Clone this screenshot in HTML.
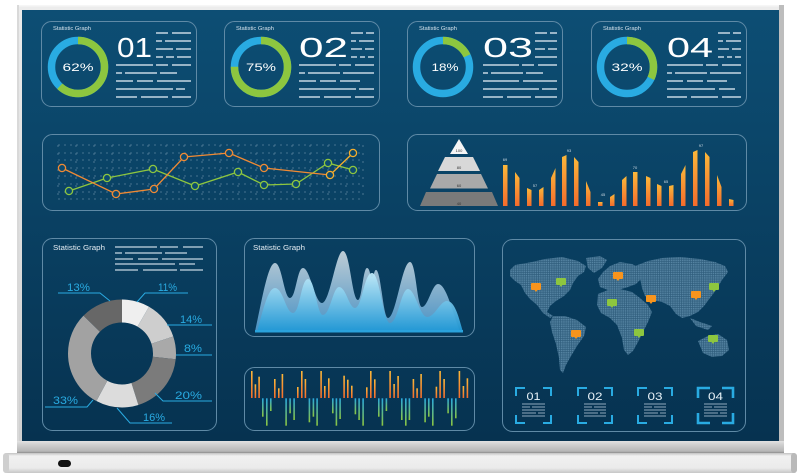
<!DOCTYPE html>
<html><head><meta charset="utf-8"><style>
html,body{margin:0;padding:0;background:#fff;width:800px;height:476px;overflow:hidden}
svg{display:block;font-family:"Liberation Sans",sans-serif}
</style></head><body>
<svg width="800" height="476" viewBox="0 0 800 476" xmlns="http://www.w3.org/2000/svg">
<defs>
<linearGradient id="scr" x1="0" y1="0" x2="0" y2="1"><stop offset="0" stop-color="#0d4e74"/><stop offset="1" stop-color="#063250"/></linearGradient>
<linearGradient id="frm" x1="0" y1="0" x2="0" y2="1"><stop offset="0" stop-color="#ececec"/><stop offset="1" stop-color="#cfcfcf"/></linearGradient>
<linearGradient id="band" x1="0" y1="0" x2="0" y2="1"><stop offset="0" stop-color="#e2e2e2"/><stop offset="0.35" stop-color="#cdcdcd"/><stop offset="0.85" stop-color="#b6b6b6"/><stop offset="1" stop-color="#8c8c8c"/></linearGradient>
<linearGradient id="base" x1="0" y1="0" x2="0" y2="1"><stop offset="0" stop-color="#c2c2c2"/><stop offset="0.15" stop-color="#f1f1f1"/><stop offset="0.75" stop-color="#ebebeb"/><stop offset="1" stop-color="#c6c6c6"/></linearGradient>
<linearGradient id="og" x1="0" y1="0" x2="0" y2="1"><stop offset="0" stop-color="#fbb83a"/><stop offset="1" stop-color="#f36b2c"/></linearGradient>
<linearGradient id="bg2" x1="0" y1="0" x2="0" y2="1"><stop offset="0" stop-color="#2aa9e0"/><stop offset="1" stop-color="#8bc53f"/></linearGradient>
<linearGradient id="wb" gradientUnits="userSpaceOnUse" x1="0" y1="250" x2="0" y2="332"><stop offset="0" stop-color="#d3dde3"/><stop offset="1" stop-color="#4d9acf"/></linearGradient>
<linearGradient id="wf" gradientUnits="userSpaceOnUse" x1="0" y1="272" x2="0" y2="332"><stop offset="0" stop-color="#c2ebf9"/><stop offset="1" stop-color="#1e97d5"/></linearGradient>
<pattern id="dots" width="2.2" height="2.2" patternUnits="userSpaceOnUse"><rect width="2.2" height="2.2" fill="#2f5d7c"/><rect width="1.5" height="1.5" fill="#5584a2"/></pattern>
</defs>

<!-- monitor frame -->
<rect x="17" y="5" width="767" height="448" fill="url(#frm)"/>
<rect x="17" y="5" width="767" height="1.5" fill="#f6f6f6"/>
<rect x="779" y="5" width="5" height="448" fill="#bdbdbd"/>
<rect x="17" y="5" width="2" height="448" fill="#d9d9d9"/>
<rect x="22" y="10" width="757" height="431" fill="url(#scr)"/>
<rect x="17" y="441" width="767" height="12" fill="url(#band)"/>
<rect x="3" y="453" width="794" height="20" rx="4" fill="url(#base)"/>
<rect x="3" y="453" width="6" height="20" rx="3" fill="#cfcfcf"/>
<rect x="791" y="453" width="6" height="20" rx="3" fill="#b9b9b9"/>
<rect x="58" y="460" width="13" height="7" rx="3.5" fill="#111"/>

<!-- top cards -->
<g fill="none" stroke="#5f8aa6" stroke-width="1">
<rect x="41.5" y="21.5" width="155" height="85" rx="10"/>
<rect x="224.5" y="21.5" width="155" height="85" rx="10"/>
<rect x="407.5" y="21.5" width="155" height="85" rx="10"/>
<rect x="591.5" y="21.5" width="155" height="85" rx="10"/>
<rect x="42.5" y="134.5" width="337" height="76" rx="10"/>
<rect x="407.5" y="134.5" width="339" height="76" rx="10"/>
<rect x="42.5" y="238.5" width="174" height="192" rx="10"/>
<rect x="244.5" y="238.5" width="230" height="98" rx="10"/>
<rect x="244.5" y="367.5" width="230" height="63" rx="10"/>
<rect x="502.5" y="239.5" width="243" height="192" rx="10"/>
</g>

<g id="c1" transform="translate(41,21)">
<text x="12" y="9" font-size="5" fill="#d6e3ec" textLength="38" lengthAdjust="spacingAndGlyphs">Statistic Graph</text>
<circle cx="37" cy="46" r="26.5" fill="none" stroke="#29abe2" stroke-width="7.5"/>
<circle cx="37" cy="46" r="26.5" fill="none" stroke="#8dc63f" stroke-width="7.5" stroke-dasharray="103.2 200" transform="rotate(-90 37 46)"/>
<text x="37" y="50" font-size="11" fill="#fff" text-anchor="middle" textLength="31" lengthAdjust="spacingAndGlyphs">62%</text>
<text x="76" y="36" font-size="28" fill="#fff" textLength="35" lengthAdjust="spacingAndGlyphs">01</text>
<g stroke="#c6d7e3" stroke-width="1.4">
<path d="M115 12H127M131 12H150M115 20H121M124 20H150M115 28H132M135 28H150M115 36H122M125 36H133M136 36H150"/>
<path d="M75 44H112M115 44H127M131 44H150M75 52H81M84 52H116M119 52H136M75 60H92M96 60H112M116 60H150M75 68H132M135 68H144M75 76H96M100 76H127M131 76H150"/>
</g>
</g>
<g transform="translate(224,21)">
<text x="12" y="9" font-size="5" fill="#d6e3ec" textLength="38" lengthAdjust="spacingAndGlyphs">Statistic Graph</text>
<circle cx="37" cy="46" r="26.5" fill="none" stroke="#29abe2" stroke-width="7.5"/>
<circle cx="37" cy="46" r="26.5" fill="none" stroke="#8dc63f" stroke-width="7.5" stroke-dasharray="124.9 200" transform="rotate(-90 37 46)"/>
<text x="37" y="50" font-size="11" fill="#fff" text-anchor="middle" textLength="30" lengthAdjust="spacingAndGlyphs">75%</text>
<text x="75" y="36" font-size="28" fill="#fff" textLength="49" lengthAdjust="spacingAndGlyphs">02</text>
<g stroke="#c6d7e3" stroke-width="1.4">
<path d="M127 12H139M142 12H150M127 20H132M135 20H150M127 28H138M141 28H150M127 36H133M136 36H141M144 36H150"/>
<path d="M75 44H112M115 44H127M131 44H150M75 52H81M84 52H116M119 52H150M75 60H92M96 60H112M116 60H136M75 68H132M135 68H150M75 76H96M100 76H127M131 76H150"/>
</g>
</g>
<g transform="translate(407,21)">
<text x="12" y="9" font-size="5" fill="#d6e3ec" textLength="38" lengthAdjust="spacingAndGlyphs">Statistic Graph</text>
<circle cx="36" cy="46" r="26.5" fill="none" stroke="#29abe2" stroke-width="7.5"/>
<circle cx="36" cy="46" r="26.5" fill="none" stroke="#8dc63f" stroke-width="7.5" stroke-dasharray="30 200" transform="rotate(-90 36 46)"/>
<text x="38" y="50" font-size="11" fill="#fff" text-anchor="middle" textLength="27" lengthAdjust="spacingAndGlyphs">18%</text>
<text x="76" y="36" font-size="28" fill="#fff" textLength="50" lengthAdjust="spacingAndGlyphs">03</text>
<g stroke="#c6d7e3" stroke-width="1.4">
<path d="M128 12H140M143 12H150M128 20H150M128 28H138M141 28H150M128 36H150"/>
<path d="M76 44H112M115 44H127M131 44H150M76 52H81M84 52H116M119 52H136M76 60H112M116 60H150M76 68H132M135 68H150M76 76H96M100 76H124M128 76H150"/>
</g>
</g>
<g transform="translate(591,21)">
<text x="12" y="9" font-size="5" fill="#d6e3ec" textLength="38" lengthAdjust="spacingAndGlyphs">Statistic Graph</text>
<circle cx="36" cy="46" r="26.5" fill="none" stroke="#29abe2" stroke-width="7.5"/>
<circle cx="36" cy="46" r="26.5" fill="none" stroke="#8dc63f" stroke-width="7.5" stroke-dasharray="53.3 200" transform="rotate(-90 36 46)"/>
<text x="36" y="50" font-size="11" fill="#fff" text-anchor="middle" textLength="31" lengthAdjust="spacingAndGlyphs">32%</text>
<text x="76" y="36" font-size="28" fill="#fff" textLength="46" lengthAdjust="spacingAndGlyphs">04</text>
<g stroke="#c6d7e3" stroke-width="1.4">
<path d="M127 12H139M142 12H150M127 20H132M135 20H150M127 28H138M141 28H150M127 36H133M136 36H141M144 36H150"/>
<path d="M76 44H112M115 44H127M131 44H150M76 52H81M84 52H116M119 52H150M76 60H92M96 60H112M116 60H136M76 68H124M128 68H144M76 76H96M100 76H127M131 76H150"/>
</g>
</g>

<!-- line chart -->
<g stroke="#6f93ab" stroke-width="0.8" stroke-dasharray="2 4" opacity="0.8">
<path d="M58 145H364M58 153H364M58 160H364M58 168H364M58 176H364M58 184H364M58 192H364M58 199H364"/>
<path d="M58 145V200M76 145V200M94 145V200M112 145V200M130 145V200M148 145V200M166 145V200M184 145V200M202 145V200M220 145V200M238 145V200M256 145V200M274 145V200M292 145V200M310 145V200M328 145V200M346 145V200M363 145V200" stroke-dasharray="2 6"/>
</g>
<polyline points="69,191 107,178 153,169 195,186 238,172 264,185 296,184 328,163 353,170" fill="none" stroke="#8dc63f" stroke-width="1.3"/>
<polyline points="62,168 116,194 154,189 184,157 229,153 264,168 330,175" fill="none" stroke="#f08a34" stroke-width="1.3"/>
<line x1="330" y1="175" x2="353" y2="153" stroke="#f6ae2d" stroke-width="1.3"/>
<g fill="#0c4a6f" stroke="#8dc63f" stroke-width="1.3">
<circle cx="69" cy="191" r="3.6"/><circle cx="107" cy="178" r="3.6"/><circle cx="153" cy="169" r="3.6"/><circle cx="195" cy="186" r="3.6"/><circle cx="238" cy="172" r="3.6"/><circle cx="264" cy="185" r="3.6"/><circle cx="296" cy="184" r="3.6"/><circle cx="328" cy="163" r="3.6"/><circle cx="353" cy="170" r="3.6"/>
</g>
<g fill="#0c4a6f" stroke="#f08a34" stroke-width="1.3">
<circle cx="62" cy="168" r="3.6"/><circle cx="116" cy="194" r="3.6"/><circle cx="154" cy="189" r="3.6"/><circle cx="184" cy="157" r="3.6"/><circle cx="229" cy="153" r="3.6"/><circle cx="264" cy="168" r="3.6"/><circle cx="330" cy="175" r="3.6" stroke="#f6ae2d"/><circle cx="353" cy="153" r="3.6" stroke="#f6ae2d"/>
</g>

<!-- pyramid -->
<polygon points="459,139 468,154 450,154" fill="#f5f5f5"/>
<polygon points="445,157 473,157 480,171 438,171" fill="#d8d8d8"/>
<polygon points="437,174 481,174 488,188.5 430,188.5" fill="#a9a9a9"/>
<polygon points="426,192 492,192 498,206 420,206" fill="#7a7a7a"/>
<g font-size="4" fill="#333" text-anchor="middle">
<text x="459" y="152">100</text><text x="459" y="169">80</text><text x="459" y="187">60</text><text x="459" y="205">40</text>
</g>
<!-- orange bars -->
<g fill="url(#og)">
<polygon points="503,206 503,165 507.5,165 507.5,206"/>
<polygon points="515,206 515,172 519.5,178 519.5,206"/>
<polygon points="527,206 527,188 531.5,190 531.5,206"/>
<polygon points="539,206 539,190 543.5,187 543.5,206"/>
<polygon points="551,206 551,178 555.5,168 555.5,206"/>
<polygon points="562,206 562,157 566.5,155 566.5,206"/>
<polygon points="574,206 574,157 578.5,162 578.5,206"/>
<polygon points="586,206 586,181 590.5,192 590.5,206"/>
<polygon points="598,206 598,202 602.5,202 602.5,206"/>
<polygon points="610,206 610,197 614.5,194 614.5,206"/>
<polygon points="622,206 622,180 626.5,176 626.5,206"/>
<polygon points="633,206 633,172 637.5,172 637.5,206"/>
<polygon points="646,206 646,176 650.5,178 650.5,206"/>
<polygon points="657,206 657,184 661.5,186 661.5,206"/>
<polygon points="669,206 669,186 673.5,185 673.5,206"/>
<polygon points="681,206 681,174 685.5,165 685.5,206"/>
<polygon points="693,206 693,152 697.5,150 697.5,206"/>
<polygon points="705,206 705,152 709.5,157 709.5,206"/>
<polygon points="717,206 717,175 721.5,187 721.5,206"/>
<polygon points="729,206 729,199 733.5,200 733.5,206"/>
</g>
<g font-size="4" fill="#cfdbe4" text-anchor="middle">
<text x="505" y="161">69</text><text x="535" y="187">57</text><text x="569" y="152">93</text><text x="603" y="196">45</text><text x="635" y="169">70</text><text x="666" y="183">65</text><text x="701" y="147">97</text>
</g>

<!-- bottom-left donut card -->
<text x="53" y="250" font-size="7" fill="#e6eef4" textLength="52" lengthAdjust="spacingAndGlyphs">Statistic Graph</text>
<g stroke="#c6d7e3" stroke-width="1.3">
<path d="M115 247H157M160 247H178M183 247H203M115 253H122M125 253H162M165 253H187M115 259H133M138 259H158M162 259H203M115 264H175M179 264H195M115 270H138M143 270H177M180 270H203"/>
</g>
<g fill="none" stroke-width="23" transform="rotate(-90 122 353.5)">
<circle cx="122" cy="353.5" r="42.5" stroke="#efefef" stroke-dasharray="22.25 300"/>
<circle cx="122" cy="353.5" r="42.5" stroke="#cecece" stroke-dasharray="30.79 300" stroke-dashoffset="-22.25"/>
<circle cx="122" cy="353.5" r="42.5" stroke="#a9a9a9" stroke-dasharray="18.17 300" stroke-dashoffset="-53.04"/>
<circle cx="122" cy="353.5" r="42.5" stroke="#7b7b7b" stroke-dasharray="48.96 300" stroke-dashoffset="-71.21"/>
<circle cx="122" cy="353.5" r="42.5" stroke="#dcdcdc" stroke-dasharray="34.12 300" stroke-dashoffset="-120.17"/>
<circle cx="122" cy="353.5" r="42.5" stroke="#a2a2a2" stroke-dasharray="78.63 300" stroke-dashoffset="-154.29"/>
<circle cx="122" cy="353.5" r="42.5" stroke="#676767" stroke-dasharray="34.12 300" stroke-dashoffset="-232.92"/>
</g>
<g fill="none" stroke="#29abe2" stroke-width="1">
<polyline points="58,293 100,293 110,301"/>
<polyline points="188,293 145,293 137,302"/>
<polyline points="212,325 167,325"/>
<polyline points="212,355 176,355"/>
<polyline points="155,393 163,401 212,401"/>
<polyline points="117,408 130,423 172,423"/>
<polyline points="45,407 87,407 93,400"/>
</g>
<g font-size="11" fill="#29abe2">
<text x="67" y="291" textLength="23" lengthAdjust="spacingAndGlyphs">13%</text>
<text x="158" y="291" textLength="19" lengthAdjust="spacingAndGlyphs">11%</text>
<text x="180" y="323" textLength="22" lengthAdjust="spacingAndGlyphs">14%</text>
<text x="184" y="352" textLength="18" lengthAdjust="spacingAndGlyphs">8%</text>
<text x="175" y="399" textLength="27" lengthAdjust="spacingAndGlyphs">20%</text>
<text x="143" y="421" textLength="22" lengthAdjust="spacingAndGlyphs">16%</text>
<text x="53" y="404" textLength="25" lengthAdjust="spacingAndGlyphs">33%</text>
</g>

<!-- waves -->
<text x="253" y="250" font-size="7" fill="#e6eef4" textLength="52" lengthAdjust="spacingAndGlyphs">Statistic Graph</text>
<path d="M255,332 C262,300 268,263 275,263 C282,263 284,298 290,298 C296,298 297,268 303,268 C310,268 315,303 322,303 C330,303 336,251 343,251 C350,251 352,300 358,300 C362,300 363,268 367,268 C370,268 370,277 372,277 C374,277 374,270 376,270 C381,270 383,318 388,318 C396,318 402,262 410,262 C416,262 417,307 422,307 C428,307 432,284 438,284 C446,284 452,310 460,332 Z" fill="url(#wb)" opacity="0.9"/>
<path d="M257,332 C263,310 268,288 275,288 C283,288 286,313 293,313 C300,313 301,279 308,279 C315,279 317,315 323,315 C330,315 333,287 339,287 C346,287 349,308 355,308 C362,308 364,273 372,273 C380,273 383,323 390,323 C398,323 401,289 408,289 C415,289 420,317 427,317 C435,317 440,301 447,301 C455,301 459,318 463,332 Z" fill="url(#wf)" opacity="0.95"/>
<rect x="255" y="330" width="208" height="2.5" fill="#2aa3dc"/>

<!-- bars bottom -->
<g fill="url(#og)">
<rect x="251" y="371" width="1.6" height="27"/><rect x="254.6" y="384.3" width="1.6" height="13.7"/><rect x="258.3" y="376.7" width="1.6" height="21.3"/>
<rect x="274" y="379" width="1.6" height="19"/><rect x="278" y="388.3" width="1.6" height="9.7"/><rect x="281.6" y="374" width="1.6" height="24"/>
<rect x="297" y="387" width="1.6" height="11"/><rect x="301" y="371" width="1.6" height="27"/><rect x="304.6" y="379" width="1.6" height="19"/>
<rect x="320.3" y="371" width="1.6" height="27"/><rect x="324" y="386" width="1.6" height="12"/><rect x="328" y="378.3" width="1.6" height="19.7"/>
<rect x="343.3" y="375.7" width="1.6" height="22.3"/><rect x="347" y="379.7" width="1.6" height="18.3"/><rect x="351" y="385.7" width="1.6" height="12.3"/>
<rect x="366" y="387.3" width="1.6" height="10.7"/><rect x="370" y="371" width="1.6" height="27"/><rect x="374" y="379.3" width="1.6" height="18.7"/>
<rect x="389.3" y="371" width="1.6" height="27"/><rect x="393.3" y="384" width="1.6" height="14"/><rect x="397.3" y="376" width="1.6" height="22"/>
<rect x="412.6" y="379" width="1.6" height="19"/><rect x="416.3" y="388.3" width="1.6" height="9.7"/><rect x="420.3" y="374" width="1.6" height="24"/>
<rect x="435.6" y="386.7" width="1.6" height="11.3"/><rect x="439.3" y="371" width="1.6" height="27"/><rect x="443.3" y="379" width="1.6" height="19"/>
<rect x="458.6" y="371" width="1.6" height="27"/><rect x="462.6" y="386" width="1.6" height="12"/><rect x="466.6" y="378.3" width="1.6" height="19.7"/>
</g>
<g fill="url(#bg2)">
<rect x="262" y="398.3" width="1.6" height="18.4"/><rect x="266" y="398.3" width="1.6" height="27.4"/><rect x="270" y="398.3" width="1.6" height="12.7"/>
<rect x="285.3" y="398.3" width="1.6" height="27.4"/><rect x="289.3" y="398.3" width="1.6" height="15"/><rect x="293.3" y="398.3" width="1.6" height="21.7"/>
<rect x="308.6" y="398.3" width="1.6" height="24"/><rect x="312.6" y="398.3" width="1.6" height="18.4"/><rect x="316.3" y="398.3" width="1.6" height="27.4"/>
<rect x="332" y="398.3" width="1.6" height="15"/><rect x="335.6" y="398.3" width="1.6" height="27.4"/><rect x="339.3" y="398.3" width="1.6" height="20.7"/>
<rect x="354.6" y="398.3" width="1.6" height="16"/><rect x="358.3" y="398.3" width="1.6" height="21.7"/><rect x="362.3" y="398.3" width="1.6" height="27.4"/>
<rect x="378" y="398.3" width="1.6" height="18.4"/><rect x="381.6" y="398.3" width="1.6" height="27.4"/><rect x="385.6" y="398.3" width="1.6" height="12.7"/>
<rect x="401" y="398.3" width="1.6" height="21.7"/><rect x="405" y="398.3" width="1.6" height="27.4"/><rect x="408.6" y="398.3" width="1.6" height="21.7"/>
<rect x="424.3" y="398.3" width="1.6" height="24"/><rect x="428" y="398.3" width="1.6" height="18.4"/><rect x="432" y="398.3" width="1.6" height="27.4"/>
<rect x="447.3" y="398.3" width="1.6" height="15"/><rect x="451" y="398.3" width="1.6" height="27.4"/><rect x="455" y="398.3" width="1.6" height="20"/>
</g>

<!-- map -->
<g fill="url(#dots)">
<polygon points="510,270 515,265 532,262 545,259 562,257 578,261 586,266 584,272 578,276 573,283 570,290 564,296 556,301 550,306 547,312 553,316 550,318 543,313 537,305 530,299 525,293 521,285 515,281 510,276"/>
<polygon points="586,258 600,256 607,260 602,268 594,273 588,268"/>
<polygon points="553,316 565,316 577,320 586,327 584,336 577,346 571,356 566,365 563,373 560,370 559,358 556,344 552,332 550,322"/>
<polygon points="598,279 603,272 610,266 620,262 632,264 640,268 642,278 636,284 628,287 618,290 608,290 600,287"/>
<polygon points="598,294 608,290 620,289 632,292 640,298 648,305 652,312 648,322 643,332 638,342 633,351 628,355 624,350 622,338 617,325 610,318 601,313 597,305"/>
<polygon points="635,266 648,261 662,258 680,257 700,259 715,262 725,266 728,272 722,280 716,290 710,298 704,306 698,312 690,316 682,318 676,314 670,306 662,302 652,300 645,296 642,288 640,278"/>
<polygon points="690,318 700,322 712,326 708,330 696,326"/>
<polygon points="698,341 708,336 718,334 727,340 729,350 722,356 712,357 703,353"/>
</g>
<g>
<g fill="#f7941d"><rect x="531" y="283" width="10" height="7" rx="1"/><path d="M534.5 290h3l-1.5 2z"/>
<rect x="613" y="272" width="10" height="7" rx="1"/><path d="M616.5 279h3l-1.5 2z"/>
<rect x="646" y="295" width="10" height="7" rx="1"/><path d="M649.5 302h3l-1.5 2z"/>
<rect x="691" y="291" width="10" height="7" rx="1"/><path d="M694.5 298h3l-1.5 2z"/>
<rect x="571" y="330" width="10" height="7" rx="1"/><path d="M574.5 337h3l-1.5 2z"/></g>
<g fill="#8dc63f"><rect x="556" y="278" width="10" height="7" rx="1"/><path d="M559.5 285h3l-1.5 2z"/>
<rect x="607" y="299" width="10" height="7" rx="1"/><path d="M610.5 306h3l-1.5 2z"/>
<rect x="709" y="283" width="10" height="7" rx="1"/><path d="M712.5 290h3l-1.5 2z"/>
<rect x="634" y="329" width="10" height="7" rx="1"/><path d="M637.5 336h3l-1.5 2z"/>
<rect x="708" y="335" width="10" height="7" rx="1"/><path d="M711.5 342h3l-1.5 2z"/></g>
</g>

<!-- bottom boxes -->
<g fill="none" stroke="#29abe2" stroke-width="2">
<path d="M516 396V388H525M543 388H551V396M516 415V423H525M543 423H551V415"/>
<path d="M578 396V388H587M604 388H612V396M578 415V423H587M604 423H612V415"/>
<path d="M638 396V388H647M664 388H672V396M638 415V423H647M664 423H672V415"/>
<path d="M698 398V388H710M722 388H733V398M698 413V423H710M722 423H733V413" stroke-width="2.6"/>
</g>
<g font-size="11" fill="#e8f2f8" text-anchor="middle">
<text x="533.5" y="400" textLength="14" lengthAdjust="spacingAndGlyphs">01</text>
<text x="595" y="400" textLength="15" lengthAdjust="spacingAndGlyphs">02</text>
<text x="655" y="400" textLength="15" lengthAdjust="spacingAndGlyphs">03</text>
<text x="715.5" y="400" textLength="15" lengthAdjust="spacingAndGlyphs">04</text>
</g>
<g stroke="#8fa9bc" stroke-width="1">
<path d="M522 404H545M522 407H530M532 407H545M522 410H545M522 413H536M538 413H545M522 416H545"/>
<path d="M584 404H606M584 407H592M594 407H606M584 410H606M584 413H598M600 413H606M584 416H606"/>
<path d="M644 404H666M644 407H652M654 407H666M644 410H666M644 413H658M660 413H666M644 416H666"/>
<path d="M704 404H727M704 407H712M714 407H727M704 410H727M704 413H718M720 413H727M704 416H727"/>
</g>
</svg>
</body></html>
